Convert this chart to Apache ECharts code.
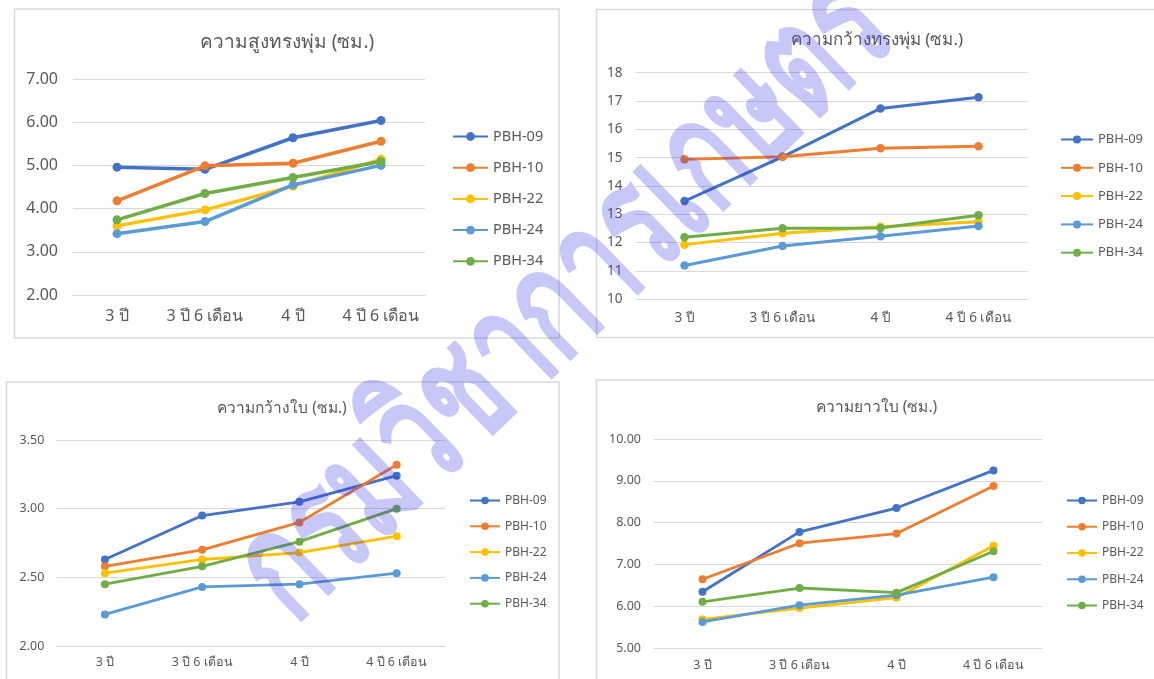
<!DOCTYPE html>
<html>
<head>
<meta charset="utf-8">
<script src="https://cdn.jsdelivr.net/npm/echarts@6/dist/echarts.min.js"></script>
<style>
html,body{margin:0;padding:0;background:#fff;}
#c{width:1154px;height:679px;}
</style>
</head>
<body>
<div id="c"></div>
<script>
// ---------- DATA ----------
const categories = ['3 ปี', '3 ปี 6 เดือน', '4 ปี', '4 ปี 6 เดือน'];
const varieties = ['PBH-09', 'PBH-10', 'PBH-22', 'PBH-24', 'PBH-34'];
const colors = ['#4472C4', '#ED7D31', '#FFC000', '#5B9BD5', '#70AD47'];

const titles = ['ความสูงทรงพุ่ม (ซม.)', 'ความกว้างทรงพุ่ม (ซม.)', 'ความกว้างใบ (ซม.)', 'ความยาวใบ (ซม.)'];
const watermarkText = 'กรมวิชาการเกษตร';

// ความสูงทรงพุ่ม (ซม.)
const bushHeight = [
  [4.96, 4.91, 5.64, 6.04],
  [4.18, 4.99, 5.05, 5.56],
  [3.60, 3.97, 4.52, 5.14],
  [3.42, 3.70, 4.55, 5.00],
  [3.74, 4.35, 4.72, 5.09]
];
// ความกว้างทรงพุ่ม (ซม.)
const bushWidth = [
  [13.47, 15.03, 16.74, 17.13],
  [14.94, 15.03, 15.33, 15.40],
  [11.93, 12.33, 12.56, 12.74],
  [11.19, 11.88, 12.23, 12.59],
  [12.19, 12.51, 12.52, 12.97]
];
// ความกว้างใบ (ซม.)
const leafWidth = [
  [2.63, 2.95, 3.05, 3.24],
  [2.58, 2.70, 2.90, 3.32],
  [2.53, 2.63, 2.68, 2.80],
  [2.23, 2.43, 2.45, 2.53],
  [2.45, 2.58, 2.76, 3.00]
];
// ความยาวใบ (ซม.)
const leafLength = [
  [6.35, 7.78, 8.35, 9.25],
  [6.65, 7.51, 7.74, 8.88],
  [5.69, 5.96, 6.21, 7.45],
  [5.63, 6.03, 6.27, 6.70],
  [6.11, 6.44, 6.33, 7.32]
];

const yMin = [2, 10, 2, 5];
const yMax = [7, 18, 3.5, 10];
const yStep = [1, 1, 0.5, 1];
const yDecimals = [2, 0, 2, 2];

// ---------- LAYOUT / STYLE ----------
const FONT = '"Noto Sans", "Open Sans", sans-serif';
const panels = [
  {grid:{left:73, top:79, width:352, height:216}, title:[287,43,19], axisFont:16, xMargin:13, yMargin:15,
   legend:{left:452, top:129, itemWidth:35, itemHeight:11, fontSize:14.5, spacing:30.7}, lw:3.5, sym:9,
   box:[14.5, 9, 544.5, 329]},
  {grid:{left:635.5, top:72.7, width:392, height:226.6}, title:[877,40,17], axisFont:13.5, xMargin:12, yMargin:13,
   legend:{left:1060, top:133, itemWidth:32, itemHeight:10, fontSize:13, spacing:28.3}, lw:3, sym:8.5,
   box:[596.5, 9.5, 570, 328]},
  {grid:{left:56.3, top:440, width:389, height:206}, title:[282,409,15.5], axisFont:12.5, xMargin:10, yMargin:12,
   legend:{left:469, top:494.5, itemWidth:30, itemHeight:9.5, fontSize:12, spacing:25.8}, lw:2.8, sym:8,
   box:[6.5, 382, 552.5, 320]},
  {grid:{left:654, top:439, width:388, height:209.3}, title:[876.5,408,15.5], axisFont:12.5, xMargin:11, yMargin:13,
   legend:{left:1066, top:494.5, itemWidth:30, itemHeight:9.5, fontSize:12, spacing:26.25}, lw:2.8, sym:8,
   box:[596.5, 380, 570, 320]}
];
const datasets = [bushHeight, bushWidth, leafWidth, leafLength];

const grid = [], xAxis = [], yAxis = [], legend = [], series = [], graphic = [];

panels.forEach((p, k) => {
  graphic.push({
    type: 'rect', z: 0, silent: true,
    shape: {x: p.box[0], y: p.box[1], width: p.box[2], height: p.box[3]},
    style: {fill: '#fff', stroke: '#D9D9D9', lineWidth: 1.5}
  });
  graphic.push({
    type: 'text', z: 5, silent: true, x: p.title[0], y: p.title[1],
    style: {text: titles[k], fill: '#595959', font: p.title[2] + 'px ' + FONT, align: 'center', verticalAlign: 'middle'}
  });
  grid.push(Object.assign({containLabel: false}, p.grid));
  xAxis.push({
    type: 'category', gridIndex: k, data: categories, boundaryGap: true,
    axisLine: {show: true, lineStyle: {color: '#D9D9D9', width: 1}},
    axisTick: {show: false},
    axisLabel: {color: '#595959', fontSize: p.axisFont, fontFamily: FONT, margin: p.xMargin, interval: 0}
  });
  yAxis.push({
    type: 'value', gridIndex: k, min: yMin[k], max: yMax[k], interval: yStep[k],
    axisLine: {show: false}, axisTick: {show: false},
    splitLine: {show: true, lineStyle: {color: '#D9D9D9', width: 1}},
    axisLabel: {color: '#595959', fontSize: p.axisFont, fontFamily: FONT, margin: p.yMargin,
      formatter: v => v.toFixed(yDecimals[k])}
  });
  const fs = p.legend.fontSize;
  legend.push({
    orient: 'vertical', left: p.legend.left, top: p.legend.top, padding: 0,
    itemWidth: p.legend.itemWidth, itemHeight: p.legend.itemHeight,
    itemGap: p.legend.spacing - Math.max(fs, p.legend.itemHeight),
    selectedMode: false,
    textStyle: {color: '#595959', fontSize: fs, fontFamily: FONT, lineHeight: fs},
    data: varieties
  });
  datasets[k].forEach((vals, j) => {
    series.push({
      type: 'line', name: varieties[j], xAxisIndex: k, yAxisIndex: k,
      data: vals, symbol: 'circle', symbolSize: p.sym,
      lineStyle: {width: p.lw, color: colors[j]},
      itemStyle: {color: colors[j]},
      z: 2 + j, animation: false
    });
  });
});

// semi-transparent diagonal watermark drawn over everything
graphic.push({
  type: 'text', z: 100, silent: true, x: 566, y: 300, rotation: 0.77, scaleY: 1.5,
  style: {text: watermarkText, fill: 'rgba(50,50,230,0.27)', font: 'bold 104px ' + FONT,
    align: 'center', verticalAlign: 'middle'}
});

const chart = echarts.init(document.getElementById('c'));
chart.setOption({
  animation: false,
  color: colors,
  grid, xAxis, yAxis, legend, series, graphic
});
</script>
</body>
</html>
